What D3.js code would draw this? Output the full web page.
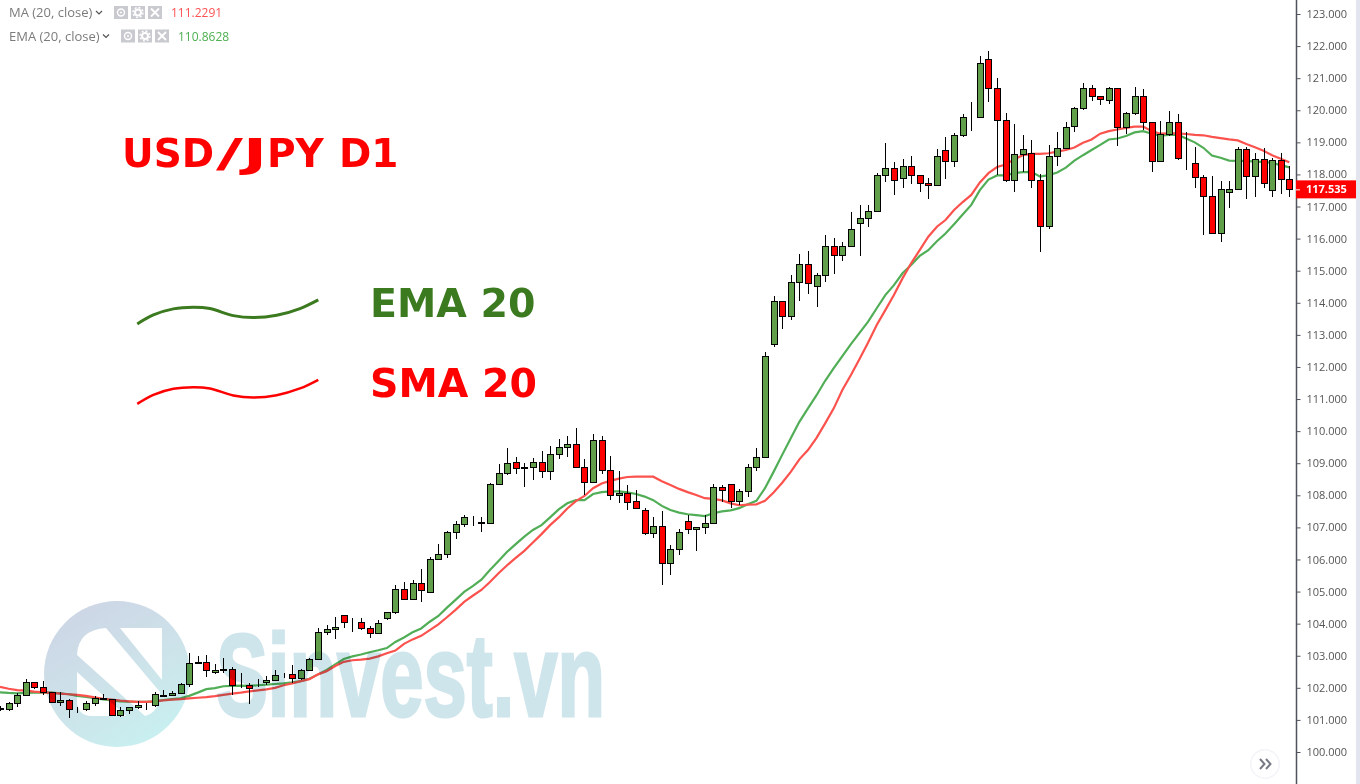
<!DOCTYPE html>
<html>
<head>
<meta charset="utf-8">
<title>USD/JPY D1</title>
<script src="https://d3js.org/d3.v7.min.js"></script>
<style>
  html, body { margin: 0; padding: 0; background: #fff; overflow: hidden; }
  svg { display: block; }
  text { font-family: "Open Sans", sans-serif; }
</style>
</head>
<body>
<svg id="chart" width="1360" height="784"></svg>
<script>
// daily candles, left to right
const opens = [101.34,101.33,101.52,101.77,102.17,102.03,101.86,101.55,101.61,101.34,101.35,101.52,101.67,101.64,101.14,101.30,101.39,101.46,101.46,101.79,101.77,101.83,102.11,102.80,102.80,102.48,102.58,102.58,102.06,102.08,
  102.20,102.17,102.23,102.40,102.42,102.30,102.55,102.89,103.73,103.82,104.26,104.04,104.04,103.85,103.70,104.17,104.35,105.07,104.76,105.26,104.98,106.01,106.16,106.85,107.10,107.16,107.16,107.13,108.34,108.68,
  109.03,108.87,108.87,109.03,108.75,109.28,109.50,109.59,108.87,108.40,109.71,108.78,108.00,108.06,107.81,107.53,106.82,107.03,105.88,106.32,107.19,106.94,107.00,107.13,108.25,108.34,107.81,108.12,108.87,109.18,
  112.70,114.04,113.58,114.64,115.20,114.51,114.86,115.76,115.48,115.76,116.48,116.63,116.85,117.97,118.19,117.88,118.25,117.97,117.72,117.66,118.75,118.41,119.22,119.78,119.78,121.59,120.68,119.69,117.82,118.63,
  118.66,117.82,116.38,118.59,118.81,119.50,120.06,120.68,120.43,120.31,120.68,119.47,119.90,120.46,119.62,118.41,119.25,119.62,118.35,118.35,117.91,117.32,116.16,117.44,117.54,118.78,117.94,118.47,117.50,118.44,117.85];
const highs = [101.43,101.57,101.85,102.27,102.19,102.21,101.88,101.86,101.65,101.39,101.60,101.74,101.81,101.66,101.41,101.41,101.58,101.54,101.86,101.93,101.89,102.14,103.09,102.99,103.01,102.73,102.93,102.64,102.45,102.14,
  102.27,102.36,102.55,102.45,102.70,102.59,102.92,103.85,103.96,104.20,104.26,104.17,104.17,103.93,104.10,104.35,105.19,105.29,105.35,105.70,106.07,106.47,106.88,107.19,107.38,107.34,107.31,108.37,108.97,109.46,
  109.18,109.00,109.15,109.37,109.53,109.75,109.85,110.09,109.12,109.91,109.85,109.21,108.75,108.31,108.16,107.59,107.31,107.50,106.44,106.94,107.39,107.00,107.38,108.34,108.31,108.34,108.19,108.97,109.46,112.46,
  114.20,114.04,114.86,115.51,115.60,114.92,116.10,116.01,115.88,116.82,117.04,117.04,118.06,118.97,118.38,118.47,118.56,117.97,117.88,118.78,119.16,119.28,119.87,120.26,121.68,121.84,120.99,119.90,119.56,119.22,
  119.06,118.00,118.91,119.31,119.62,120.09,120.84,120.78,120.46,120.74,120.68,119.94,120.74,120.65,119.62,119.65,119.97,119.87,119.31,118.84,117.97,117.94,117.78,117.78,118.87,118.84,118.66,118.81,118.50,118.66,118.25];
const lows = [101.28,101.29,101.41,101.77,101.95,101.79,101.52,101.44,101.07,101.22,101.29,101.44,101.64,101.14,101.10,101.19,101.35,101.32,101.41,101.72,101.75,101.81,102.03,102.74,102.35,102.42,102.47,101.79,101.99,101.50,
  102.03,102.08,102.21,102.31,102.16,102.23,102.52,102.89,103.64,103.51,103.86,103.75,103.79,103.56,103.67,104.12,104.31,104.76,104.76,104.68,104.98,105.97,106.05,106.65,107.00,107.03,106.85,107.13,108.34,108.62,
  108.67,108.27,108.49,108.55,108.49,109.13,109.20,108.87,108.01,108.37,108.67,107.84,107.77,107.55,107.59,106.77,106.68,105.21,105.52,106.15,106.80,106.27,106.80,107.13,107.78,107.61,107.69,107.96,108.77,109.18,
  112.61,113.19,113.45,114.06,114.28,113.88,114.66,114.91,115.31,115.76,115.47,116.37,116.85,117.77,117.37,117.59,117.71,117.46,117.24,117.66,117.87,118.24,119.16,119.36,119.75,120.25,117.98,117.75,117.46,118.08,
  117.59,115.59,116.31,118.26,118.81,119.32,120.00,120.30,120.17,120.20,118.89,119.25,119.84,119.40,118.08,118.41,119.19,118.44,118.13,117.57,116.10,116.16,115.88,116.94,117.54,117.22,117.29,117.57,117.29,117.38,117.29];
const closes = [101.37,101.52,101.77,102.17,102.02,101.86,101.55,101.61,101.33,101.34,101.52,101.67,101.64,101.14,101.30,101.39,101.46,101.46,101.80,101.75,101.83,102.11,102.76,102.76,102.55,102.55,102.55,102.08,102.05,101.99,
  102.20,102.23,102.39,102.39,102.30,102.55,102.89,103.73,103.82,103.89,104.04,104.04,103.85,103.70,104.01,104.35,105.07,104.76,105.26,105.04,106.01,106.16,106.85,107.10,107.31,107.16,107.13,108.34,108.68,109.00,
  108.84,108.84,109.03,108.75,109.28,109.50,109.59,108.87,108.40,109.71,108.78,108.00,108.06,107.80,107.59,106.82,107.03,105.88,106.32,106.85,106.94,107.00,107.13,108.25,108.16,107.81,108.12,108.87,109.18,112.33,
  114.04,113.58,114.64,115.20,114.61,114.86,115.76,115.48,115.76,116.29,116.63,116.85,117.97,118.19,117.82,118.25,117.97,117.72,117.66,118.59,118.41,119.22,119.78,119.78,121.46,120.68,119.69,117.82,118.63,118.78,
  117.82,116.38,118.59,118.81,119.47,120.06,120.68,120.43,120.34,120.68,119.47,119.90,120.43,119.62,118.41,119.25,119.62,118.50,118.35,117.91,117.32,116.16,117.54,117.54,118.78,117.94,118.47,117.72,118.44,117.85,117.535];

const smaValues = [102.03,101.97,101.93,101.91,101.88,101.86,101.84,101.82,101.80,101.78,101.75,101.70,101.66,101.63,101.60,101.58,101.56,101.56,101.58,101.61,101.63,101.65,101.67,101.69,101.71,101.74,101.78,101.82,101.85,101.89,
  101.92,101.95,102.00,102.08,102.14,102.21,102.27,102.42,102.52,102.68,102.81,102.86,102.88,102.91,102.98,103.08,103.16,103.37,103.51,103.62,103.80,103.98,104.20,104.43,104.68,104.87,105.05,105.30,105.57,105.82,
  106.05,106.27,106.53,106.79,107.07,107.31,107.59,107.82,107.98,108.22,108.37,108.45,108.52,108.57,108.58,108.58,108.58,108.44,108.32,108.20,108.10,108.01,107.91,107.89,107.84,107.75,107.69,107.71,107.72,107.83,
  108.09,108.39,108.73,109.12,109.41,109.79,110.24,110.71,111.28,111.75,112.25,112.76,113.31,113.77,114.24,114.76,115.23,115.64,116.06,116.37,116.58,116.89,117.14,117.36,117.75,118.04,118.23,118.31,118.47,118.60,
  118.64,118.64,118.66,118.71,118.76,118.84,118.99,119.09,119.27,119.35,119.40,119.45,119.49,119.49,119.35,119.27,119.28,119.28,119.26,119.23,119.22,119.17,119.13,119.09,119.06,118.95,118.85,118.74,118.60,118.49,118.38];
const emaValues = [101.86,101.84,101.83,101.84,101.85,101.85,101.85,101.83,101.80,101.75,101.72,101.68,101.64,101.61,101.58,101.57,101.56,101.56,101.58,101.62,101.65,101.67,101.75,101.85,101.96,101.99,102.05,102.06,102.07,102.06,
  102.08,102.10,102.12,102.14,102.17,102.21,102.28,102.42,102.56,102.73,102.90,102.98,103.04,103.11,103.17,103.24,103.43,103.57,103.73,103.85,104.06,104.24,104.50,104.74,104.99,105.17,105.37,105.67,105.95,106.24,
  106.48,106.71,106.92,107.07,107.31,107.56,107.75,107.85,107.85,108.04,108.10,108.12,108.12,108.09,108.04,107.96,107.85,107.67,107.54,107.46,107.41,107.38,107.35,107.44,107.50,107.53,107.60,107.72,107.83,108.22,
  108.73,109.26,109.78,110.29,110.71,111.12,111.57,111.96,112.34,112.71,113.06,113.41,113.83,114.24,114.55,114.92,115.18,115.46,115.64,115.92,116.16,116.45,116.75,117.05,117.51,117.84,117.97,117.97,118.04,118.07,
  118.08,117.93,117.98,118.06,118.21,118.43,118.60,118.76,118.92,119.09,119.12,119.20,119.31,119.35,119.27,119.21,119.23,119.24,119.12,119.00,118.83,118.59,118.52,118.43,118.42,118.42,118.40,118.39,118.36,118.29,118.22];

const priceTicks = d3.range(100, 124);
const lastPrice = 117.535;
const smaLegendValue = "111.2291";
const emaLegendValue = "110.8628";

// the two freehand strokes next to the labels, in candle index / price
const waveIndex = [15.97,17.84,20.17,22.49,24.43,27.14,29.47,32.19,34.9,37.03];
const emaWave = [113.34,113.62,113.81,113.86,113.82,113.60,113.54,113.61,113.82,114.09];
const smaWave = [110.85,111.13,111.32,111.37,111.33,111.11,111.05,111.12,111.33,111.60];

const width = 1360,
      height = 784,
      axisX = 1296;

const green = "#629f4a",
      red = "#ff0000",
      smaColor = "#fb524d",
      emaColor = "#51ae57";

const svg = d3.select("#chart");

const x = d3.scaleLinear().domain([0, opens.length - 1]).range([0, 1289.3]);
const y = d3.scaleLinear().domain([100, 123]).range([752, 14]);

svg.append("defs").append("clipPath").attr("id", "pane")
  .append("rect").attr("width", axisX).attr("height", height);

const pane = svg.append("g").attr("clip-path", "url(#pane)");

// averages sit under the candles
const line = d3.line().x((d, i) => x(i)).y(d => y(d));

pane.append("path").datum(emaValues)
  .attr("d", line).attr("fill", "none").attr("stroke", emaColor).attr("stroke-width", 2.2);
pane.append("path").datum(smaValues)
  .attr("d", line).attr("fill", "none").attr("stroke", smaColor).attr("stroke-width", 2.2);

const candles = pane.selectAll("g.candle")
  .data(opens.map((o, i) => ({i: i, open: o, high: highs[i], low: lows[i], close: closes[i]})))
  .enter().append("g")
  .attr("class", "candle")
  .attr("transform", d => `translate(${Math.round(x(d.i))},0)`)
  .attr("shape-rendering", "crispEdges");

candles.append("line")
  .attr("x1", 0.5).attr("x2", 0.5)
  .attr("y1", d => Math.round(y(d.high)))
  .attr("y2", d => Math.round(y(d.low)))
  .attr("stroke", "#000");

candles.append("rect")
  .attr("x", -2.5)
  .attr("width", 6)
  .attr("y", d => Math.round(y(Math.max(d.open, d.close))) + 0.5)
  .attr("height", d => Math.max(Math.round(y(Math.min(d.open, d.close))) - Math.round(y(Math.max(d.open, d.close))), 0))
  .attr("fill", d => d.close >= d.open ? green : red)
  .attr("stroke", "#000");

// titles and legend strokes
// the slash and the J are wider in the picture than in DejaVu, so stretch just those two
const title = svg.append("text")
  .attr("y", 167)
  .style("font-family", "'DejaVu Sans'").style("font-weight", "bold").style("font-size", "39px")
  .attr("fill", red);
title.append("tspan").attr("x", 122).text("USD");
title.append("tspan").attr("x", 216).attr("textLength", 27).attr("lengthAdjust", "spacingAndGlyphs").text("/");
title.append("tspan").attr("x", 243).attr("textLength", 24).attr("lengthAdjust", "spacingAndGlyphs").text("J");
title.append("tspan").attr("x", 267).text("PY");
title.append("tspan").attr("x", 339).text("D1");

svg.append("text").text("EMA 20")
  .attr("x", 370).attr("y", 317)
  .style("font-family", "'DejaVu Sans'").style("font-weight", "bold").style("font-size", "39.5px")
  .attr("fill", "#3b7a1f");

svg.append("text").text("SMA 20")
  .attr("x", 370).attr("y", 397)
  .style("font-family", "'DejaVu Sans'").style("font-weight", "bold").style("font-size", "39.5px")
  .attr("fill", red);

const wave = d3.line().x((d, i) => x(waveIndex[i])).y(d => y(d)).curve(d3.curveCatmullRom);

svg.append("path").datum(emaWave)
  .attr("d", wave).attr("fill", "none").attr("stroke", "#3b7a1f").attr("stroke-width", 3);
svg.append("path").datum(smaWave)
  .attr("d", wave).attr("fill", "none").attr("stroke", red).attr("stroke-width", 2.5);

// price axis
svg.append("rect").attr("x", 1356).attr("width", 4).attr("height", height).attr("fill", "#e3e5ee");

const axis = svg.append("g")
  .attr("transform", `translate(${axisX + 0.5},0)`)
  .call(d3.axisRight(y).tickValues(priceTicks).tickFormat(d3.format(".3f")).tickSize(4).tickPadding(6));

axis.select(".domain").attr("d", `M0,0V${height}`).attr("stroke", "#50535e").attr("stroke-width", 1.5);
axis.selectAll(".tick line").attr("stroke", "#50535e");
axis.selectAll(".tick text")
  .style("font-family", "'Open Sans'").style("font-size", "11px").attr("fill", "#555");

const tag = svg.append("g").attr("transform", `translate(${axisX},${y(lastPrice)})`);
tag.append("rect").attr("y", -9).attr("width", 60).attr("height", 18).attr("fill", red);
tag.append("line").attr("x1", 0).attr("x2", 4).attr("y1", 0.5).attr("y2", 0.5).attr("stroke", "#fff");
tag.append("text").text(d3.format(".3f")(lastPrice))
  .attr("x", 10).attr("y", 4)
  .style("font-family", "'Open Sans'").style("font-size", "11px").style("font-weight", "bold")
  .attr("fill", "#fff");

// indicator legend, top left
function legendRow(label, value, color, cy, chevronX, iconX, valueX) {
  const g = svg.append("g");
  g.append("text").text(label)
    .attr("x", 9).attr("y", cy + 4.5)
    .style("font-size", "13px").attr("fill", "#7b7b7b");
  g.append("path")
    .attr("d", `M${chevronX},${cy - 1.5}l3,3l3,-3`)
    .attr("fill", "none").attr("stroke", "#555").attr("stroke-width", 1.2);

  [0, 17, 34].forEach((dx, k) => {
    const cx = iconX + dx + 7;
    g.append("rect")
      .attr("x", iconX + dx).attr("y", cy - 6.5)
      .attr("width", 14).attr("height", 13)
      .attr("fill", "#c9cad0");
    if (k == 0) {
      g.append("circle").attr("cx", cx).attr("cy", cy).attr("r", 3.5)
        .attr("fill", "none").attr("stroke", "#fff").attr("stroke-width", 1.4);
      g.append("circle").attr("cx", cx).attr("cy", cy).attr("r", 1).attr("fill", "#fff");
    } else if (k == 1) {
      g.append("circle").attr("cx", cx).attr("cy", cy).attr("r", 3)
        .attr("fill", "none").attr("stroke", "#fff").attr("stroke-width", 2);
      g.append("circle").attr("cx", cx).attr("cy", cy).attr("r", 5)
        .attr("fill", "none").attr("stroke", "#fff").attr("stroke-width", 1.4).attr("stroke-dasharray", "2 1.9");
    } else {
      g.append("path")
        .attr("d", `M${cx - 4},${cy - 4}L${cx + 4},${cy + 4}M${cx + 4},${cy - 4}L${cx - 4},${cy + 4}`)
        .attr("stroke", "#fff").attr("stroke-width", 1.8);
    }
  });

  g.append("text").text(value)
    .attr("x", valueX).attr("y", cy + 4.5)
    .style("font-size", "12px").attr("fill", color);
}

legendRow("MA (20, close)", smaLegendValue, "#ff5252", 12.5, 96, 114, 171);
legendRow("EMA (20, close)", emaLegendValue, "#4caf50", 36, 103, 121, 178);

// scroll-to-latest button
const scrollBtn = svg.append("g").attr("transform", "translate(1265,764)");
scrollBtn.append("circle").attr("r", 15).attr("fill", "#f3f4f7");
scrollBtn.append("circle").attr("r", 13.5).attr("fill", "#fff");
scrollBtn.append("path")
  .attr("d", "M-5,-5l4.5,5l-4.5,5M1,-5l4.5,5l-4.5,5")
  .attr("fill", "none").attr("stroke", "#787b86").attr("stroke-width", 2);

// watermark goes on top and tints what is under it
const mark = svg.append("g").style("mix-blend-mode", "multiply");

const grad = svg.select("defs").append("linearGradient")
  .attr("id", "logoFill").attr("x1", 0.15).attr("y1", 0.05).attr("x2", 0.7).attr("y2", 1);
grad.append("stop").attr("offset", 0).attr("stop-color", "#cdd5e5");
grad.append("stop").attr("offset", 0.55).attr("stop-color", "#cde3ea");
grad.append("stop").attr("offset", 1).attr("stop-color", "#c8f0f1");

mark.append("circle").attr("cx", 117).attr("cy", 674).attr("r", 73).attr("fill", "url(#logoFill)");
mark.append("path")
  .attr("d", "M77,655Q78,630 106,628L160,692Q160,712 145,716L77,655Z M77,672L126,716L92,716Q77,716 77,700Z M120,628L162,628L162,680Z")
  .attr("fill", "#fff");

mark.append("text").text("Sinvest.vn")
  .attr("x", 216).attr("y", 716)
  .attr("textLength", 389).attr("lengthAdjust", "spacingAndGlyphs")
  .style("font-family", "'Liberation Sans'").style("font-weight", "bold").style("font-size", "117px")
  .attr("fill", "#cfe5ec").attr("stroke", "#cfe5ec").attr("stroke-width", 3);
</script>
</body>
</html>
